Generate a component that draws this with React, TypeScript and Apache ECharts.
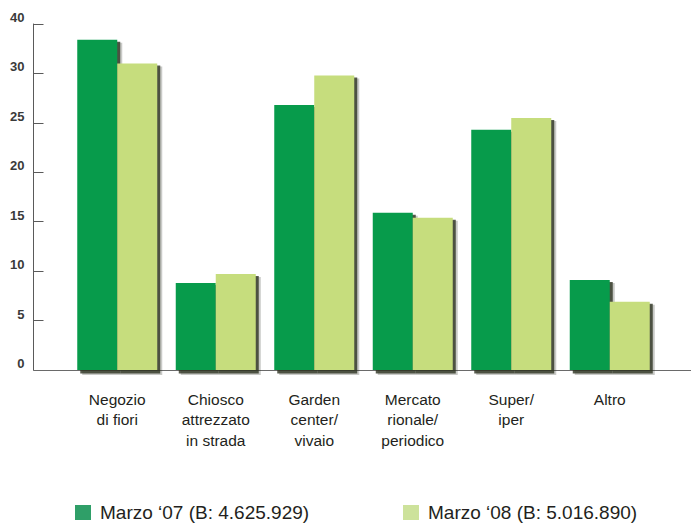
import React, { useEffect, useRef } from "react";
import * as echarts from "echarts";

// Sales channel shares (%), March '07 vs March '08
const categories = [
  "Negozio\ndi fiori",
  "Chiosco\nattrezzato\nin strada",
  "Garden\ncenter/\nvivaio",
  "Mercato\nrionale/\nperiodico",
  "Super/\niper",
  "Altro",
];
const marzo07 = [33.4, 8.8, 26.8, 15.9, 24.3, 9.1];
const marzo08 = [31.0, 9.7, 29.8, 15.4, 25.5, 6.9];
const seriesNames = ["Marzo \u201807 (B: 4.625.929)", "Marzo \u201808 (B: 5.016.890)"];
// Printed tick labels, one per step of 5 on the value scale
const yTickLabels = ["0", "5", "10", "15", "20", "25", "30", "40"];

const DARK = "#079b4b";
const LIGHT = "#c6dd7d";
const BAR_W = 40;

export default function App() {
  const ref = useRef<HTMLDivElement>(null);

  useEffect(() => {
    if (!ref.current) return;
    const chart = echarts.init(ref.current, undefined, { renderer: "svg" });

    const gridTop = 24;
    const gridBottom = 155;
    const baseY = 525 - gridBottom;

    // Drop shadows behind every bar: [category index, value, 0 = '07 / 1 = '08]
    const shadowData = [
      ...marzo07.map((v, i) => [i, v, 0]),
      ...marzo08.map((v, i) => [i, v, 1]),
    ];

    const renderShadow = (_params: any, api: any) => {
      const idx = api.value(0);
      const val = api.value(1);
      const which = api.value(2);
      const top = api.coord([idx, val]);
      const base = api.coord([idx, 0]);
      const x = top[0] + (which === 0 ? -BAR_W : 0);
      const h = base[1] - top[1];
      return {
        type: "group",
        children: [
          {
            type: "rect",
            shape: { x: x + 5, y: top[1] + 3, width: BAR_W, height: h + 2 },
            style: { fill: "rgba(40,44,30,0.25)" },
          },
          {
            type: "rect",
            shape: { x: x + 3, y: top[1] + 2, width: BAR_W, height: h + 1.5 },
            style: { fill: "rgba(45,50,32,0.8)" },
          },
        ],
      };
    };

    const legendText = {
      fontFamily: "'Liberation Sans', Arial, sans-serif",
      fontSize: 19,
      color: "#231f20",
      padding: [0, 0, 0, 4],
    };

    chart.setOption({
      animation: false,
      backgroundColor: "#ffffff",
      grid: { left: 68, right: 32, top: gridTop, bottom: gridBottom },
      xAxis: {
        type: "category",
        data: categories,
        axisLine: { show: false },
        axisTick: { show: false },
        axisLabel: {
          margin: 19,
          fontFamily: "'Liberation Sans', Arial, sans-serif",
          fontSize: 15.5,
          lineHeight: 20.5,
          color: "#231f20",
          interval: 0,
        },
      },
      yAxis: {
        type: "value",
        min: 0,
        max: 35,
        interval: 5,
        offset: 34.5,
        axisLine: { show: true, lineStyle: { color: "#5a5a5a", width: 1 } },
        axisTick: { show: true, inside: true, length: 10, lineStyle: { color: "#5a5a5a" } },
        splitLine: { show: false },
        axisLabel: {
          margin: 9,
          fontFamily: "'Liberation Sans', Arial, sans-serif",
          fontWeight: "bold",
          fontSize: 13,
          color: "#3a3a3a",
          verticalAlign: "bottom",
          formatter: (v: number) => yTickLabels[Math.round(v / 5)] ?? "",
        },
      },
      legend: [
        {
          data: [{ name: seriesNames[0], itemStyle: { color: "#2f9f68" } }],
          left: 75,
          top: 503,
          padding: 0,
          itemWidth: 16,
          itemHeight: 15,
          icon: "rect",
          textStyle: legendText,
        },
        {
          data: [{ name: seriesNames[1], itemStyle: { color: "#cde29b" } }],
          left: 403,
          top: 503,
          padding: 0,
          itemWidth: 16,
          itemHeight: 15,
          icon: "rect",
          textStyle: legendText,
        },
      ],
      graphic: [
        {
          type: "line",
          z: 1,
          shape: { x1: 33.5, y1: baseY + 0.5, x2: 691, y2: baseY + 0.5 },
          style: { stroke: "#6a6a6a", lineWidth: 1 },
        },
      ],
      series: [
        {
          name: "ombra",
          type: "custom",
          coordinateSystem: "cartesian2d",
          data: shadowData,
          encode: { x: 0, y: 1 },
          renderItem: renderShadow,
          z: 1,
          silent: true,
        },
        {
          name: seriesNames[0],
          type: "bar",
          data: marzo07,
          barWidth: BAR_W,
          barGap: "0%",
          z: 3,
          itemStyle: { color: DARK },
        },
        {
          name: seriesNames[1],
          type: "bar",
          data: marzo08,
          barWidth: BAR_W,
          barGap: "0%",
          z: 3,
          itemStyle: { color: LIGHT },
        },
      ],
    });

    return () => chart.dispose();
  }, []);

  return (
    <div
      ref={ref}
      style={{ position: "fixed", left: 0, top: 0, width: 691, height: 525, background: "#fff" }}
    />
  );
}
